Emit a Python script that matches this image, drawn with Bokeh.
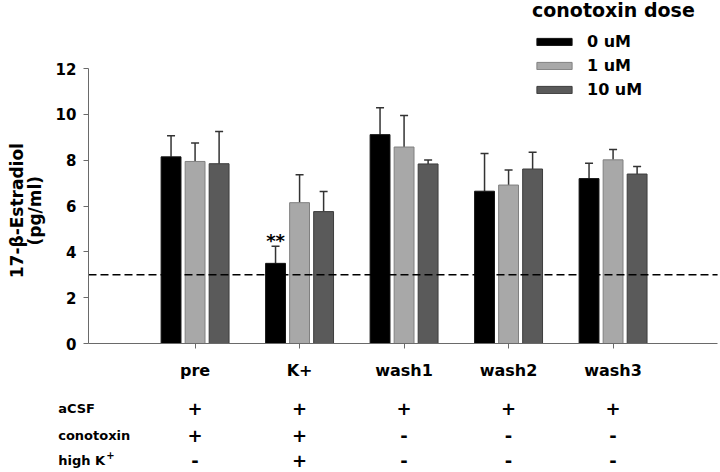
import math
from bokeh.plotting import figure
from bokeh.models import (ColumnDataSource, Range1d, FixedTicker, Whisker,
                          TeeHead, Label, Legend, LegendItem)
from bokeh.core.properties import value
from bokeh.embed import file_html
from bokeh.resources import INLINE

# ---------------- data ----------------
categories = ["pre", "K+", "wash1", "wash2", "wash3"]
dose_labels = ["0 uM", "1 uM", "10 uM"]
mean_0uM = [8.15, 3.50, 9.12, 6.65, 7.20]
sem_0uM = [0.92, 0.75, 1.17, 1.65, 0.67]
mean_1uM = [7.95, 6.15, 8.58, 6.92, 8.02]
sem_1uM = [0.80, 1.22, 1.38, 0.66, 0.45]
mean_10uM = [7.85, 5.76, 7.84, 7.62, 7.40]
sem_10uM = [1.41, 0.88, 0.17, 0.73, 0.33]
threshold = 3.0
y_ticks = [0, 2, 4, 6, 8, 10, 12]
y_label_lines = ["17-β-Estradiol", "(pg/ml)"]
row_names = ["aCSF", "conotoxin", "high K"]
row_signs = [["+", "+", "+", "+", "+"],
             ["+", "+", "-", "-", "-"],
             ["-", "+", "-", "-", "-"]]
signif_group = 1  # "K+" group, 0 uM
signif_text = "**"

# ---------------- style / layout ----------------
FONT = "DejaVu Sans"
fills = ["#000000", "#a8a8a8", "#5a5a5a"]
edges = ["#111111", "#808080", "#3c3c3c"]
offsets = [-0.23, 0.0, 0.23]
bar_w = 0.19
axis_col = "#6a6a6a"
x_axis_start = -0.02
x_axis_end = 6.0
y_axis_top = 12

# the frame fills the whole canvas; axes are pinned at x=-0.02 and y=0
p = figure(width=720, height=472, x_range=Range1d(-0.862, 6.028), y_range=Range1d(-5.633, 14.978),
           output_backend="svg", toolbar_location=None,
           min_border_left=0, min_border_right=0, min_border_top=0, min_border_bottom=0)
p.outline_line_color = None
p.background_fill_color = "white"
p.border_fill_color = "white"
p.xgrid.visible = False
p.ygrid.visible = False

xpos = list(range(1, len(categories) + 1))
means = [mean_0uM, mean_1uM, mean_10uM]
sems = [sem_0uM, sem_1uM, sem_10uM]

items = []
for i in range(3):
    src = ColumnDataSource(dict(
        x=[x + offsets[i] for x in xpos],
        top=means[i],
        upper=[m + s for m, s in zip(means[i], sems[i])],
    ))
    w = Whisker(base="x", lower="top", upper="upper", source=src,
                line_color="#333333", line_width=1.5,
                upper_head=TeeHead(size=8, line_color="#333333", line_width=1.5),
                lower_head=None, level="underlay")
    p.add_layout(w)
    r = p.vbar(x="x", top="top", bottom=0, width=bar_w, source=src,
               fill_color=fills[i], line_color=edges[i], line_width=1)
    items.append(LegendItem(label=dose_labels[i], renderers=[r]))

# dashed reference line across the plot area (drawn over the bars)
p.line(x=[x_axis_start, x_axis_end], y=[threshold, threshold], line_color="black",
       line_width=1.5, line_dash="8 4")

# axes
p.yaxis.fixed_location = x_axis_start
p.yaxis.ticker = FixedTicker(ticks=y_ticks)
p.yaxis.bounds = (0, y_axis_top)
p.yaxis.axis_line_color = axis_col
p.yaxis.major_tick_line_color = axis_col
p.yaxis.major_tick_out = 5
p.yaxis.major_tick_in = 0
p.yaxis.minor_tick_line_color = None
p.yaxis.major_label_text_font = FONT
p.yaxis.major_label_text_font_style = "bold"
p.yaxis.major_label_text_font_size = "15px"
p.yaxis.major_label_text_color = "black"
p.yaxis.major_label_standoff = 7

p.xaxis.fixed_location = 0
p.xaxis.ticker = FixedTicker(ticks=xpos)
p.xaxis.bounds = (x_axis_start, x_axis_end)
p.xaxis.major_label_overrides = {x: c for x, c in zip(xpos, categories)}
p.xaxis.axis_line_color = axis_col
p.xaxis.major_tick_line_color = axis_col
p.xaxis.major_tick_out = 5
p.xaxis.major_tick_in = 0
p.xaxis.minor_tick_line_color = None
p.xaxis.major_label_text_font = FONT
p.xaxis.major_label_text_font_style = "bold"
p.xaxis.major_label_text_font_size = "16px"
p.xaxis.major_label_text_color = "black"
p.xaxis.major_label_standoff = 12

# y axis title (two lines, rotated)
p.text(x=[-0.704, -0.532], y=[5.8, 5.8], text=y_label_lines, angle=math.pi / 2,
       text_align="center", text_baseline="middle", text_font=value(FONT),
       text_font_style="bold", text_font_size="17px", text_color="black")

# significance marker
p.add_layout(Label(x=xpos[signif_group] + offsets[0],
                   y=mean_0uM[signif_group] + sem_0uM[signif_group] + 0.25,
                   text=signif_text, text_align="center", text_baseline="middle",
                   text_font=FONT, text_font_style="bold", text_font_size="18px",
                   text_color="black"))

# treatment table
row_y = [-2.84, -4.02, -5.11]
p.text(x=[-0.31] * len(row_names), y=row_y, text=row_names, text_align="left",
       text_baseline="middle", text_font=value(FONT), text_font_style="bold",
       text_font_size="13px", text_color="black")
sx, sy, st = [], [], []
for yy, signs in zip(row_y, row_signs):
    for x, s in zip(xpos, signs):
        sx.append(x)
        sy.append(yy)
        st.append(s)
p.text(x=sx, y=sy, text=st, text_align="center", text_baseline="middle",
       text_font=value(FONT), text_font_style="bold", text_font_size="18px", text_color="black")
# superscript "+" of "high K+"
p.text(x=[-0.31], y=[row_y[2]], text=["+"], x_offset=48, y_offset=-6, text_align="left",
       text_baseline="middle", text_font=value(FONT), text_font_style="bold",
       text_font_size="10px", text_color="black")

legend = Legend(items=items, location=(532, 373), margin=0, padding=0,
                title="conotoxin dose", title_text_font=FONT, title_text_font_style="bold",
                title_text_font_size="19px", title_text_color="black", title_standoff=10,
                label_text_font=FONT, label_text_font_style="bold", label_text_font_size="16px",
                label_text_color="black",
                glyph_width=44, glyph_height=9, label_height=20, spacing=4, label_standoff=11,
                background_fill_alpha=0, border_line_color=None)
p.add_layout(legend)

open("out.html", "w").write(file_html(p, INLINE))
